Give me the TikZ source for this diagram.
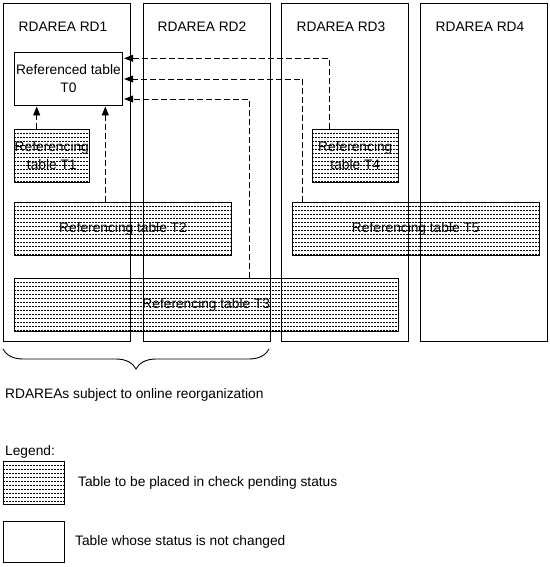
\documentclass[tikz,border=0pt]{standalone}
\usepackage{fontspec}
\setmainfont{Liberation Sans}
\usetikzlibrary{arrows.meta,decorations.pathreplacing}
\begin{document}
\begin{tikzpicture}[x=1bp,y=-1bp,
  txt/.style={font=\fontsize{13.8}{18}\selectfont, inner sep=0},
  col/.style={draw, line width=0.9bp, minimum width=127bp, minimum height=337.7bp, inner sep=0},
  tbl/.style={draw, line width=0.9bp, inner sep=0, align=center, font=\fontsize{13.8}{18}\selectfont},
  hatch/.style={tbl, path picture={
    \foreach \k in {1,...,16}{
      \draw[line width=0.6bp, dash pattern=on 2bp off 1bp]
        ([yshift=-\k*4bp]path picture bounding box.north west) --
        ([yshift=-\k*4bp]path picture bounding box.north east);
    }}},
  conn/.style={line width=0.9bp, dash pattern=on 6bp off 3bp,
    -{Triangle[length=9bp,width=7bp]}, shorten >=1bp}
]
\useasboundingbox (0,0) rectangle (550,567);

% RDAREA columns
\node[col] (rd1) at (67,172.2) {};
\node[col] (rd2) at (206.5,172.2) {};
\node[col] (rd3) at (345,172.2) {};
\node[col] (rd4) at (484,172.2) {};
\node[txt] (l1) at (63,27) {RDAREA RD1};
\node[txt] (l2) at (202,27) {RDAREA RD2};
\node[txt] (l3) at (341,27) {RDAREA RD3};
\node[txt] (l4) at (480,27) {RDAREA RD4};

% tables
\node[tbl, minimum width=108.7bp, minimum height=52.7bp] (t0) at (68.4,78.7) {Referenced table\\T0};
\node[hatch, minimum width=75bp, minimum height=53.4bp] (t1) at (51.8,156) {Referencing\\table T1};
\node[hatch, minimum width=86bp, minimum height=53.4bp] (t4) at (355.3,156) {Referencing\\table T4};
\node[hatch, minimum width=217.4bp, minimum height=52.6bp] (t2) at (123,229) {Referencing table T2};
\node[hatch, minimum width=247bp, minimum height=52.6bp] (t5) at (415.8,229) {Referencing table T5};
\node[hatch, minimum width=384bp, minimum height=52.7bp] (t3) at (206.3,304.7) {Referencing table T3};

% connector bend points
\coordinate (a1) at (36.7,0);
\coordinate (a2) at (105.3,0);
\coordinate (c4) at (329,58.3);
\coordinate (c5) at (302.3,79);
\coordinate (c3) at (249.3,99);

\draw[conn] (t1.north -| a1) -- (t0.south -| a1);
\draw[conn] (t2.north -| a2) -- (t0.south -| a2);
\draw[conn] (t4.north -| c4) -- (c4) -- (t0.east |- c4);
\draw[conn] (t5.north -| c5) -- (c5) -- (t0.east |- c5);
\draw[conn] (t3.north -| c3) -- (c3) -- (t0.east |- c3);

% brace
\draw[line width=0.9bp, decorate, decoration={brace, amplitude=20bp}] (269,349) -- (3,349);
\node[txt, anchor=west] (sub) at (5,395) {RDAREAs subject to online reorganization};

% legend
\node[txt, anchor=west] (leg) at (5,451.7) {Legend:};
\node[hatch, minimum width=61bp, minimum height=42.6bp] (lh) at (33.8,483) {};
\node[txt, anchor=west] (lht) at (78,483.3) {Table to be placed in check pending status};
\node[tbl, minimum width=61bp, minimum height=41bp] (lp) at (33.8,542.2) {};
\node[txt, anchor=west] (lpt) at (75,541.7) {Table whose status is not changed};
\end{tikzpicture}
\end{document}
